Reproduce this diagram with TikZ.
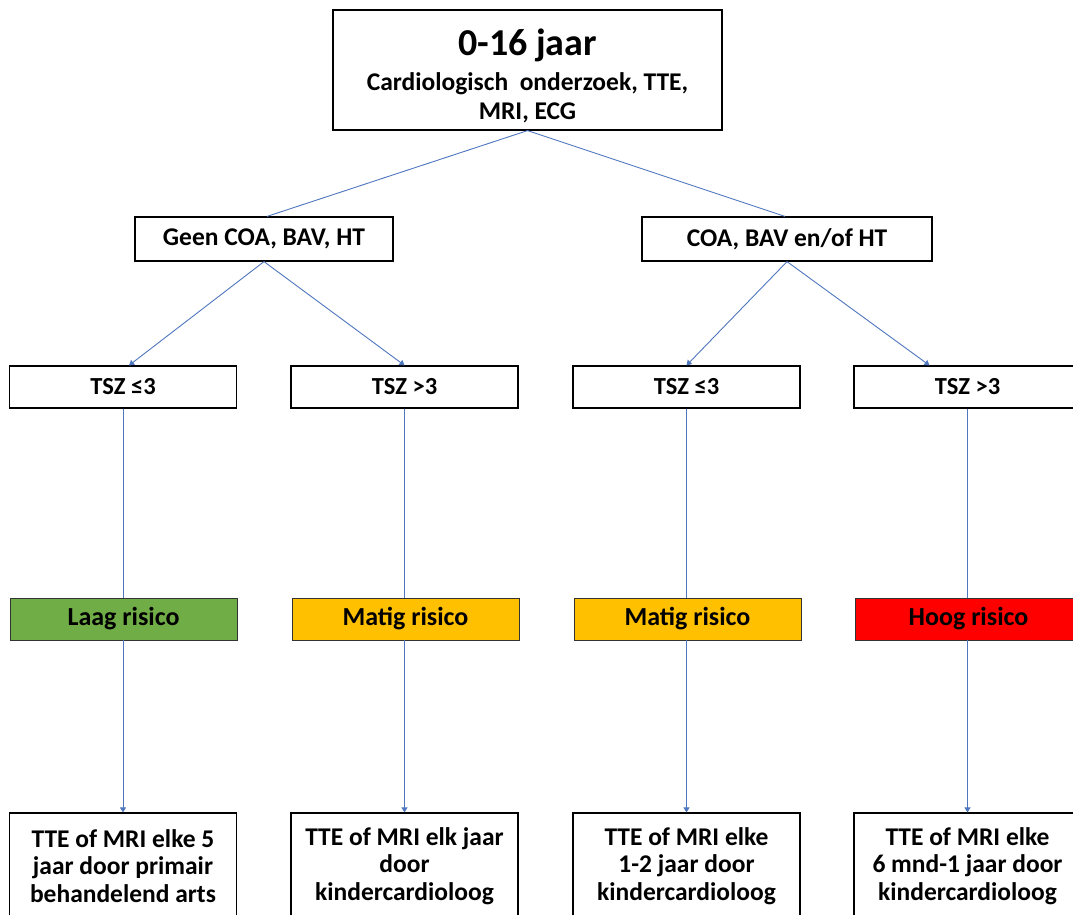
\documentclass[tikz,border=0pt]{standalone}
\usepackage{fontspec}
\setmainfont{Carlito}
\usetikzlibrary{arrows.meta}
\definecolor{conn}{HTML}{4F77BE}
\definecolor{lowg}{HTML}{70AD47}
\definecolor{midy}{HTML}{FFC000}
\definecolor{highr}{HTML}{FF0000}
\tikzset{
  x=1pt, y=-1pt,
  box/.style={draw=black, line width=1.2pt, fill=white, align=center, inner sep=0pt,
    font=\fontsize{25.5}{28}\selectfont\bfseries},
  tszbox/.style={box, minimum width=227pt, minimum height=42pt,
    font=\fontsize{24.5}{28}\selectfont\bfseries},
  endbox/.style={box, minimum width=227pt, minimum height=106pt,
    font=\fontsize{25.5}{27.7}\selectfont\bfseries},
  riskbox/.style={draw=black!80, line width=0.8pt, align=center, inner sep=0pt,
    minimum width=227pt, minimum height=42pt, font=\fontsize{26}{28}\selectfont\bfseries},
  line/.style={draw=conn, line width=0.9pt},
  arr/.style={line, -{Triangle[width=6pt,length=5pt]}}
}
\begin{document}
\begin{tikzpicture}
\clip (0,0) rectangle (1073,914);
\fill[white] (0,0) rectangle (1073,914);
% top
\node[box, minimum width=389pt, minimum height=120pt] (top) at (527.5,70) {};
\node[align=center, inner sep=0pt, font=\fontsize{25.5}{29}\selectfont\bfseries] (toptext) at (527.5,76)
  {{\fontsize{38}{40}\selectfont 0-16 jaar}\\[6pt]Cardiologisch\ \ onderzoek, TTE,\\MRI, ECG};
% second row
\node[box, minimum width=258pt, minimum height=44pt] (geen) at (264,239) {Geen COA, BAV, HT};
\node[box, minimum width=290pt, minimum height=44pt] (coa) at (787,239) {COA, BAV en/of HT};
% third row
\node[tszbox] (t1) at (123,387) {TSZ ≤3};
\node[tszbox] (t2) at (404.5,387) {TSZ >3};
\node[tszbox] (t3) at (686.5,387) {TSZ ≤3};
\node[tszbox] (t4) at (967.5,387) {TSZ >3};
% risk row
\node[riskbox, fill=lowg] (r1) at (123.5,619) {Laag risico};
\node[riskbox, fill=midy] (r2) at (405.5,619) {Matig risico};
\node[riskbox, fill=midy] (r3) at (687.5,619) {Matig risico};
\node[riskbox, fill=highr] (r4) at (968.5,619) {Hoog risico};
% bottom row
\node[endbox] (b1) at (123,866)
  {TTE of MRI elke 5\\jaar door primair\\behandelend arts};
\node[endbox] (b2) at (404.5,866)
  {TTE of MRI elk jaar\\door\\kindercardioloog};
\node[endbox] (b3) at (686.5,866)
  {TTE of MRI elke\\1-2 jaar door\\kindercardioloog};
\node[endbox] (b4) at (967.5,866)
  {TTE of MRI elke\\6 mnd-1 jaar door\\kindercardioloog};
% connectors
\draw[line] (top.south) -- ([xshift=3pt]geen.north);
\draw[line] (top.south) -- ([xshift=-2pt]coa.north);
\draw[arr] (geen.south) -- ([xshift=6pt]t1.north);
\draw[arr] (geen.south) -- (t2.north);
\draw[arr] (coa.south) -- (t3.north);
\draw[arr] (coa.south) -- ([xshift=-38pt]t4.north);
\draw[line] (t1.south) -- (r1.north -| t1.south);
\draw[line] (t2.south) -- (r2.north -| t2.south);
\draw[line] (t3.south) -- (r3.north -| t3.south);
\draw[line] (t4.south) -- (r4.north -| t4.south);
\draw[arr] (r1.south -| t1.south) -- (b1.north);
\draw[arr] (r2.south -| t2.south) -- (b2.north);
\draw[arr] (r3.south -| t3.south) -- (b3.north);
\draw[arr] (r4.south -| t4.south) -- (b4.north);
\end{tikzpicture}
\end{document}
